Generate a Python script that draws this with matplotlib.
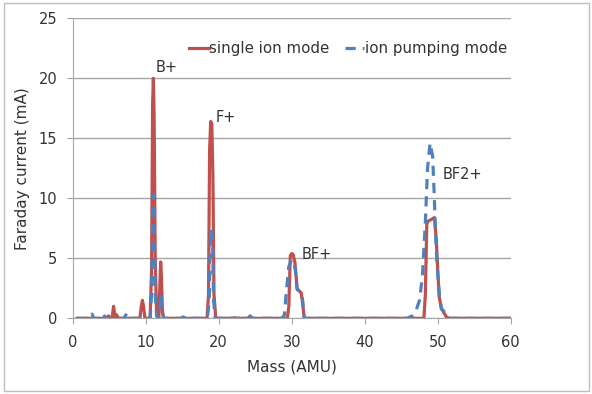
import matplotlib
matplotlib.use("Agg")
import matplotlib.pyplot as plt
from matplotlib.patches import Rectangle

# single ion mode (red, solid)
single_mass = [0.6, 4.6, 4.9, 5.2, 5.4, 5.6, 5.8, 6.0, 6.2, 6.4, 9.2, 9.4, 9.55, 9.7, 9.9,
               10.6, 10.8, 10.95, 11.05, 11.15, 11.3, 11.5, 11.8, 11.95, 12.05, 12.15, 12.3, 12.5,
               15.0, 15.2, 15.4, 18.4, 18.6, 18.75, 18.9, 19.05, 19.2, 19.35, 19.6,
               22.0, 22.2, 22.4, 24.0, 24.3, 24.6,
               29.4, 29.6, 29.8, 30.0, 30.2, 30.45, 30.6, 30.75, 31.0, 31.3, 31.5, 31.7, 31.9,
               48.1, 48.3, 48.5, 48.7, 49.0, 49.3, 49.55, 49.8, 50.0, 50.2, 50.5, 50.8, 51.2, 51.6, 60]
single_current = [0, 0, 0.2, 0, 0.05, 1.0, 0.1, 0.3, 0.05, 0, 0, 1.0, 1.5, 1.0, 0,
                  0, 4, 18, 20, 17, 5, 0.2, 0, 3, 4.7, 3.5, 0.5, 0,
                  0, 0.1, 0, 0, 2, 14, 16.4, 16.2, 12, 2, 0,
                  0, 0.05, 0, 0, 0.15, 0,
                  0, 1, 5.2, 5.4, 5.3, 4.6, 3.5, 2.4, 2.3, 2.1, 1.2, 0.1, 0,
                  0, 2, 7.9, 8.1, 8.2, 8.3, 8.4, 6.5, 4.0, 1.8, 0.8, 0.5, 0.1, 0, 0]

# ion pumping mode (blue, dashed)
pump_mass = [0.6, 2.4, 2.65, 2.9, 4.0, 4.25, 4.5, 7.0, 7.4, 7.8,
             10.6, 10.8, 10.95, 11.05, 11.15, 11.3, 11.5, 11.8, 12.0, 12.1, 12.2, 12.4,
             14.8, 15.1, 15.4, 18.2, 18.5, 18.7, 18.85, 19.0, 19.15, 19.3, 19.5,
             24.0, 24.3, 24.6, 28.7, 29.0, 29.3, 29.6, 30.0, 30.3, 30.5, 30.7, 31.0, 31.3, 31.5, 31.7,
             45.8, 46.5, 47.0, 47.5, 47.9, 48.3, 48.6, 48.95, 49.3, 49.5, 49.7, 49.9, 50.2, 50.5,
             51.0, 51.5, 60]
pump_current = [0, 0, 0.35, 0, 0, 0.3, 0, 0, 0.4, 0,
                0, 2, 8, 10.3, 8, 2, 0.2, 0, 1.2, 2.0, 1.2, 0,
                0, 0.1, 0, 0, 0.3, 1.5, 6.5, 7.4, 6.5, 1.5, 0,
                0, 0.2, 0, 0, 0.3, 2.5, 4.3, 4.9, 4.6, 4.0, 2.5, 2.3, 2.2, 1.5, 0,
                0, 0.2, 0.6, 1.5, 3.5, 8, 12.5, 14.6, 13.5, 10.5, 7, 4.5, 2, 0.8,
                0.5, 0, 0]

peak_labels = ["B+", "F+", "BF+", "BF2+"]
peak_label_pos = [(11.4, 20.9), (19.6, 16.7), (31.3, 5.35), (50.7, 11.95)]

red = "#C0504D"
blue = "#4F81BD"
grey = "#A6A6A6"
text_col = "#333333"

fig = plt.figure(figsize=(5.92, 3.94), dpi=100)
fig.patches.append(Rectangle((4 / 592, 3 / 394), 585 / 592, 388 / 394, transform=fig.transFigure,
                             fill=False, edgecolor="#BFBFBF", linewidth=1))
ax = fig.add_axes([0.1228, 0.1921, 0.740, 0.7614])

ax.plot(single_mass, single_current, color=red, lw=2.3, label="single ion mode")
ax.plot(pump_mass, pump_current, color=blue, lw=2.3, dashes=(3.2, 2.2), label="ion pumping mode")

for lab, (x, y) in zip(peak_labels, peak_label_pos):
    ax.text(x, y, lab, fontsize=10.5, color=text_col, va="center", ha="left")

ax.set_xlim(0, 60)
ax.set_ylim(0, 25)
ax.set_xticks(range(0, 61, 10))
ax.set_yticks(range(0, 26, 5))
ax.yaxis.grid(True, color=grey, lw=1)
ax.set_axisbelow(True)
for s in ["top", "right"]:
    ax.spines[s].set_visible(False)
for s in ["left", "bottom"]:
    ax.spines[s].set_color(grey)
ax.tick_params(axis="both", colors=grey, labelcolor=text_col, labelsize=10.5, length=4)
ax.tick_params(axis="x", pad=8)
ax.tick_params(axis="y", pad=7)
ax.set_xlabel("Mass (AMU)", fontsize=11, color=text_col, labelpad=7)
ax.set_ylabel("Faraday current (mA)", fontsize=11, color=text_col, labelpad=6)

leg = ax.legend(loc="upper right", bbox_to_anchor=(1.012, 0.955), ncol=2, frameon=False,
                fontsize=10.8, handlelength=1.3, handletextpad=0.05, columnspacing=1.0,
                borderaxespad=0.2)
for t in leg.get_texts():
    t.set_color(text_col)

fig.savefig("out.png", dpi=100)
